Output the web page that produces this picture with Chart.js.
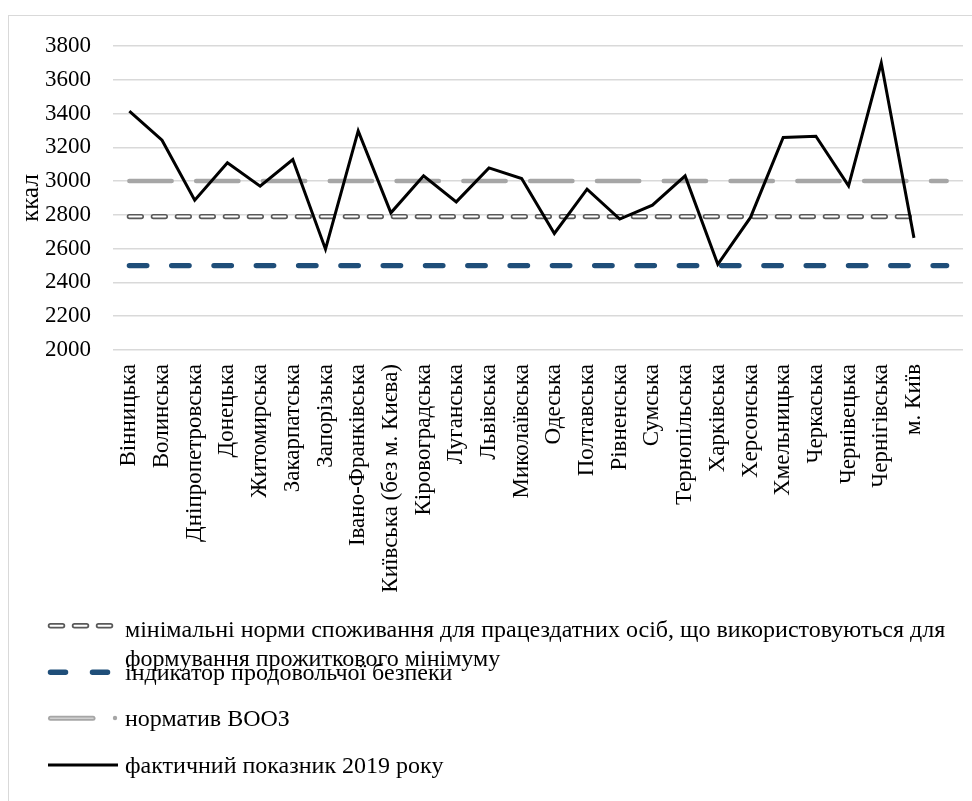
<!DOCTYPE html>
<html>
<head>
<meta charset="utf-8">
<script src="https://cdn.jsdelivr.net/npm/chart.js@4.4.1/dist/chart.umd.min.js"></script>
<style>
  html, body { margin: 0; padding: 0; background: #fff; }
  body { width: 972px; height: 801px; position: relative; overflow: hidden; font-family: "Liberation Serif", "Times New Roman", serif; }
  #frame { position: absolute; left: 8px; top: 15px; width: 990px; height: 820px; border: 1.5px solid #d9d9d9; box-sizing: border-box; }
  #wrap { position: absolute; left: 0; top: 0; width: 972px; height: 801px; }
  .lg { position: absolute; left: 125px; font-size: 24px; line-height: 26px; color: #000; white-space: nowrap; }
  .sym { position: absolute; left: 40px; }
</style>
</head>
<body>
<div id="frame"></div>
<div id="wrap"><canvas id="chart" width="972" height="801"></canvas></div>

<svg class="sym" style="top:615px" width="85" height="22">
  <line x1="10.5" y1="10.7" x2="75" y2="10.7" stroke="#595959" stroke-width="5.5" stroke-dasharray="12 12" stroke-linecap="round"/>
  <line x1="10.5" y1="10.7" x2="75" y2="10.7" stroke="#fff" stroke-width="2" stroke-dasharray="12 12" stroke-linecap="round"/>
</svg>
<svg class="sym" style="top:661px" width="85" height="22">
  <line x1="10.5" y1="11.3" x2="75" y2="11.3" stroke="#1f4e79" stroke-width="5.5" stroke-dasharray="15 27" stroke-linecap="round"/>
</svg>
<svg class="sym" style="top:707px" width="85" height="22">
  <line x1="10.5" y1="11.3" x2="53" y2="11.3" stroke="#a6a6a6" stroke-width="5" stroke-linecap="round"/>
  <line x1="10.5" y1="11.3" x2="53" y2="11.3" stroke="#d0d0d0" stroke-width="1.5" stroke-linecap="round"/>
  <circle cx="75" cy="11" r="2.2" fill="#a6a6a6"/>
</svg>
<svg class="sym" style="top:754px" width="85" height="22">
  <line x1="8" y1="11" x2="78" y2="11" stroke="#000" stroke-width="3"/>
</svg>

<div class="lg" style="top:616px">мінімальні норми споживання для працездатних осіб, що використовуються для</div>
<div class="lg" style="top:645px">формування прожиткового мінімуму</div>
<div class="lg" style="top:659px">індикатор продовольчої безпеки</div>
<div class="lg" style="top:705px">норматив ВООЗ</div>
<div class="lg" style="top:752px">фактичний показник 2019 року</div>

<script>
// Regions (last slot is empty, as in the source workbook)
const regions = [
  "Вінницька", "Волинська", "Дніпропетровська", "Донецька", "Житомирська",
  "Закарпатська", "Запорізька", "Івано-Франківська", "Київська (без м. Києва)",
  "Кіровоградська", "Луганська", "Львівська", "Миколаївська", "Одеська",
  "Полтавська", "Рівненська", "Сумська", "Тернопільська", "Харківська",
  "Херсонська", "Хмельницька", "Черкаська", "Чернівецька", "Чернігівська",
  "м. Київ", ""
];

// Actual consumption 2019, kcal
const actual2019 = [3415, 3242, 2887, 3108, 2970, 3128, 2597, 3297, 2812, 3031,
  2877, 3078, 3015, 2690, 2952, 2775, 2858, 3031, 2507, 2785,
  3258, 3266, 2972, 3699, 2664, null];

// Minimal consumption norm (subsistence minimum)
const minNorm = [2790, 2790, 2790, 2790, 2790, 2790, 2790, 2790, 2790, 2790,
  2790, 2790, 2790, 2790, 2790, 2790, 2790, 2790, 2790, 2790,
  2790, 2790, 2790, 2790, 2790, null];

// Food security indicator
const foodSecurity = [2500, 2500, 2500, 2500, 2500, 2500, 2500, 2500, 2500, 2500,
  2500, 2500, 2500, 2500, 2500, 2500, 2500, 2500, 2500, 2500,
  2500, 2500, 2500, 2500, 2500, 2500];

// WHO norm
const whoNorm = [3000, 3000, 3000, 3000, 3000, 3000, 3000, 3000, 3000, 3000,
  3000, 3000, 3000, 3000, 3000, 3000, 3000, 3000, 3000, 3000,
  3000, 3000, 3000, 3000, 3000, 3000];

const yMin = 2000;
const yMax = 3800;
const yStep = 200;

const serif = "'Liberation Serif', 'Times New Roman', serif";

const ctx = document.getElementById("chart");

new Chart(ctx, {
  type: "line",
  data: {
    labels: regions,
    datasets: [
      {
        label: "фактичний показник 2019 року",
        data: actual2019,
        borderColor: "#000",
        borderWidth: 3,
        pointRadius: 0,
        spanGaps: false,
        order: 0
      },
      {
        label: "мінімальні норми (inner)",
        data: minNorm,
        borderColor: "#fff",
        borderWidth: 2,
        borderDash: [12, 12],
        borderCapStyle: "round",
        pointRadius: 0,
        order: 1
      },
      {
        label: "мінімальні норми споживання",
        data: minNorm,
        borderColor: "#595959",
        borderWidth: 5.3,
        borderDash: [12, 12],
        borderCapStyle: "round",
        pointRadius: 0,
        order: 2
      },
      {
        label: "норматив ВООЗ",
        data: whoNorm,
        borderColor: "#a6a6a6",
        borderWidth: 4.5,
        borderDash: [42.3, 24.5],
        borderCapStyle: "round",
        pointRadius: 0,
        order: 3
      },
      {
        label: "індикатор продовольчої безпеки",
        data: foodSecurity,
        borderColor: "#1f4e79",
        borderWidth: 5.3,
        borderDash: [17.5, 24.8],
        borderCapStyle: "round",
        pointRadius: 0,
        order: 4
      }
    ]
  },
  options: {
    responsive: false,
    animation: false,
    layout: { padding: { left: 8, right: 9, top: 46, bottom: 201 } },
    plugins: {
      legend: { display: false },
      tooltip: { enabled: false }
    },
    scales: {
      x: {
        offset: true,
        grid: { display: false, drawTicks: false },
        border: { display: false },
        ticks: {
          autoSkip: false,
          maxRotation: 90,
          minRotation: 90,
          padding: 14,
          color: "#000",
          font: { family: serif, size: 23 }
        },
        afterFit: s => {
          s.height = 250;
          s.paddingLeft = 0;
          s.paddingRight = 0;
        }
      },
      y: {
        min: yMin,
        max: yMax,
        grid: { color: "#d9d9d9", lineWidth: 1.6, drawTicks: false },
        border: { display: false },
        ticks: {
          stepSize: yStep,
          padding: 22,
          color: "#000",
          font: { family: serif, size: 23 },
          callback: v => String(v)
        },
        title: {
          display: true,
          text: "ккал",
          color: "#000",
          font: { family: serif, size: 25 },
          padding: { top: 8, bottom: 0 }
        },
        afterFit: s => {
          s.width = 105;
          s.paddingTop = 0;
          s.paddingBottom = 0;
        }
      }
    }
  }
});
</script>
</body>
</html>
